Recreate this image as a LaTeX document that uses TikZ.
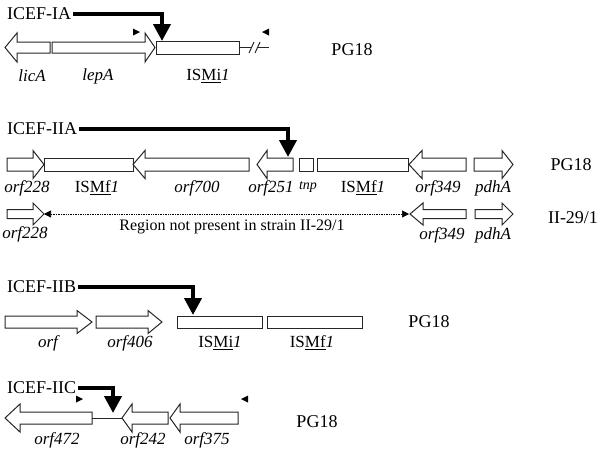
\documentclass[tikz,border=0pt]{standalone}
\usepackage{fontspec}
\setmainfont{Liberation Serif}
\usetikzlibrary{arrows.meta}
\tikzset{
  gene/.style={draw=black!85, line width=1pt, fill=white},
  bigarrow/.style={line width=4pt, -{Triangle[width=17pt,length=17pt]}},
  icef/.style={font=\fontsize{18}{20}\selectfont, inner sep=2pt},
  strain/.style={font=\fontsize{18}{20}\selectfont},
  glab/.style={font=\fontsize{17}{19}\selectfont\itshape},
  islab/.style={font=\fontsize{17}{19}\selectfont},
  tri/.style={fill=black},
}
% right-pointing gene: start, neck, tip, y, body half, head half
\newcommand\genR[6]{\draw[gene] (#1,#4-#5) -- (#2,#4-#5) -- (#2,#4-#6) -- (#3,#4) -- (#2,#4+#6) -- (#2,#4+#5) -- (#1,#4+#5) -- cycle;}
% left-pointing gene: tip, neck, end, y, body half, head half
\newcommand\genL[6]{\draw[gene] (#1,#4) -- (#2,#4-#6) -- (#2,#4-#5) -- (#3,#4-#5) -- (#3,#4+#5) -- (#2,#4+#5) -- (#2,#4+#6) -- cycle;}
\newcommand\gbox[4]{\draw[gene] (#1,#3-#4) rectangle (#2,#3+#4);}
\newcommand\smR[2]{\fill (#1-4,#2-3.5) -- (#1+3,#2) -- (#1-4,#2+3.5) -- cycle;}
\newcommand\smL[2]{\fill (#1+4,#2-3.5) -- (#1-3,#2) -- (#1+4,#2+3.5) -- cycle;}
\begin{document}
\begin{tikzpicture}[x=1pt,y=-1pt]
\useasboundingbox (0,0) rectangle (600,451);
% ---------- Row 1: ICEF-IA ----------
\node[icef, anchor=west] (iA) at (5,14) {ICEF-IA};
\genL{5}{17}{50}{47.5}{5.5}{14.5}
\genR{52}{145}{155}{47.5}{5.5}{14.5}
\gbox{156}{239}{47.5}{6.5}
\draw[black!85, line width=1pt] (239,47.5) -- (251,47.5) (258,47.5) -- (269,47.5);
\draw[black!85, line width=1pt] (249,53) -- (254,42) (255,53) -- (260,42);
\smR{137}{32}
\smL{265}{32}
\coordinate (tA) at (162,41);
\draw[bigarrow] (iA.east) -| (tA);
\node[glab] (licA) at (32,76) {licA};
\node[glab] (lepA) at (98,76) {lepA};
\node[islab] (ismi1a) at (208,76) {IS\underline{Mi}\textit{1}};
\node[strain] (pg1) at (352,50) {PG18};
% ---------- Row 2: ICEF-IIA ----------
\node[icef, anchor=west] (iIIA) at (5,129) {ICEF-IIA};
\genR{7}{33}{44}{164.5}{6.5}{14}
\gbox{44}{133}{164.5}{6.5}
\genL{133}{145}{249}{164.5}{6.5}{14}
\genL{257}{267}{293}{164.5}{6.5}{14}
\gbox{299}{313}{164.5}{6.5}
\gbox{317}{408}{164.5}{6.5}
\genL{409}{422}{466}{164.5}{6.5}{14}
\genR{474}{502}{513}{164.5}{6.5}{14}
\coordinate (tIIA) at (288,157);
\draw[bigarrow] (iIIA.east) -| (tIIA);
\node[glab] (o228a) at (27,188) {orf228};
\node[islab] (ismf1a) at (97,188) {IS\underline{Mf}\textit{1}};
\node[glab] (o700) at (197,188) {orf700};
\node[glab] (o251) at (271,188) {orf251};
\node[glab, font=\fontsize{14}{16}\selectfont\itshape] (tnp) at (308,187) {tnp};
\node[islab] (ismf1b) at (363,188) {IS\underline{Mf}\textit{1}};
\node[glab] (o349a) at (438,188) {orf349};
\node[glab] (pdhAa) at (493,188) {pdhA};
\node[strain] (pg2) at (571,165) {PG18};
% ---------- Row 3: II-29/1 ----------
\genR{7}{33}{44}{214}{4.5}{11}
\genL{410}{423}{466}{214}{4.5}{11}
\genR{475}{502}{513}{214}{4.5}{11}
\coordinate (dl) at (44,214);
\coordinate (dr) at (409,214);
\draw[densely dotted, line width=0.7pt, {Triangle[width=7pt,length=7pt]}-{Triangle[width=7pt,length=7pt]}] (dl) -- (dr);
\node[font=\fontsize{16}{18}\selectfont] (reg) at (232,227) {Region not present in strain II-29/1};
\node[glab] (o228b) at (25,234) {orf228};
\node[glab] (o349b) at (442,235) {orf349};
\node[glab] (pdhAb) at (493,235) {pdhA};
\node[strain] (ii291) at (573,218) {II-29/1};
% ---------- Row 4: ICEF-IIB ----------
\node[icef, anchor=west] (iIIB) at (5,287) {ICEF-IIB};
\genR{5}{77}{92}{322}{6}{11.5}
\genR{96}{148}{162}{322}{6}{11.5}
\gbox{177}{262}{322}{6}
\gbox{267}{362}{322}{6}
\coordinate (tIIB) at (193,315);
\draw[bigarrow] (iIIB.east) -| (tIIB);
\node[glab] (orf) at (48,343) {orf};
\node[glab] (o406) at (130,343) {orf406};
\node[islab] (ismi1b) at (220,343) {IS\underline{Mi}\textit{1}};
\node[islab] (ismf1c) at (312,343) {IS\underline{Mf}\textit{1}};
\node[strain] (pg4) at (429,322) {PG18};
% ---------- Row 5: ICEF-IIC ----------
\node[icef, anchor=west] (iIIC) at (5,388) {ICEF-IIC};
\genL{5}{20}{92}{418}{6}{14}
\draw[black!85, line width=1pt] (92,418) -- (122,418);
\genL{122}{132}{168}{418}{6}{14}
\genL{170}{180}{238}{418}{6}{14}
\smR{80}{399}
\smL{244}{399}
\coordinate (tIIC) at (113,413);
\draw[bigarrow] (iIIC.east) -| (tIIC);
\node[glab] (o472) at (57,440) {orf472};
\node[glab] (o242) at (143,440) {orf242};
\node[glab] (o375) at (207,440) {orf375};
\node[strain] (pg5) at (317,422) {PG18};
\end{tikzpicture}
\end{document}
